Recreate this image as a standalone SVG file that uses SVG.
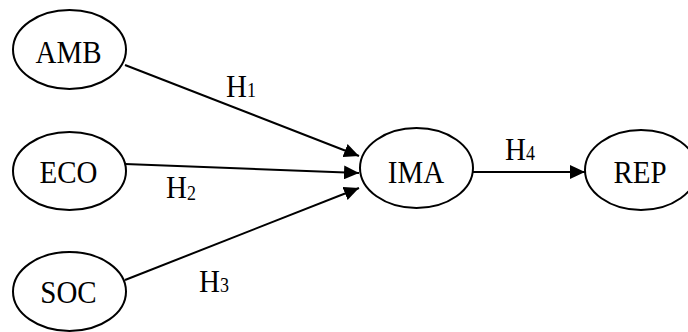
<svg xmlns="http://www.w3.org/2000/svg" width="688" height="332" viewBox="0 0 688 332">
<style>
.node ellipse{fill:#fff;stroke:#000;stroke-width:2}
.lbl{font-family:"Liberation Serif","Times New Roman",serif;font-size:29px;fill:#000;text-anchor:middle}
.h{font-family:"Liberation Serif","Times New Roman",serif;font-size:29px;fill:#000}
.sub{font-size:18px}
.edge{stroke:#000;stroke-width:2;fill:none;marker-end:url(#arr)}
</style>
<defs>
<marker id="arr" markerUnits="userSpaceOnUse" markerWidth="16" markerHeight="14" refX="15" refY="7" orient="auto">
<path d="M0,0 L15,7 L0,14 z" fill="#000"/>
</marker>
</defs>
<rect width="688" height="332" fill="#fff"/>
<g id="connectors">
<line class="edge" x1="125" y1="65" x2="359" y2="156"/>
<line class="edge" x1="125" y1="164" x2="359" y2="173"/>
<line class="edge" x1="125" y1="280" x2="359" y2="188"/>
<line class="edge" x1="473" y1="172" x2="585" y2="172"/>
<text class="h" transform="translate(226,97) scale(1,1.12)">H<tspan class="sub">1</tspan></text>
<text class="h" transform="translate(166,198) scale(1,1.12)">H<tspan class="sub" dy="2">2</tspan></text>
<text class="h" transform="translate(199,292) scale(1,1.12)">H<tspan class="sub">3</tspan></text>
<text class="h" transform="translate(505,160) scale(1,1.12)">H<tspan class="sub">4</tspan></text>
</g>
<g id="AMB" class="node"><ellipse cx="69.5" cy="49.5" rx="56.5" ry="39.5"/><text class="lbl" transform="translate(68.5,63) scale(1,1.12)">AMB</text></g>
<g id="ECO" class="node"><ellipse cx="69.5" cy="171" rx="56.5" ry="39"/><text class="lbl" transform="translate(68.5,183) scale(1,1.12)">ECO</text></g>
<g id="SOC" class="node"><ellipse cx="69.5" cy="291.5" rx="56.5" ry="39.5"/><text class="lbl" transform="translate(68.5,303) scale(1,1.12)">SOC</text></g>
<g id="IMA" class="node"><ellipse cx="416.5" cy="168" rx="56.5" ry="40"/><text class="lbl" transform="translate(416,183) scale(1,1.12)">IMA</text></g>
<g id="REP" class="node"><ellipse cx="641" cy="170" rx="56" ry="40"/><text class="lbl" transform="translate(640,183) scale(1,1.12)">REP</text></g>
</svg>
